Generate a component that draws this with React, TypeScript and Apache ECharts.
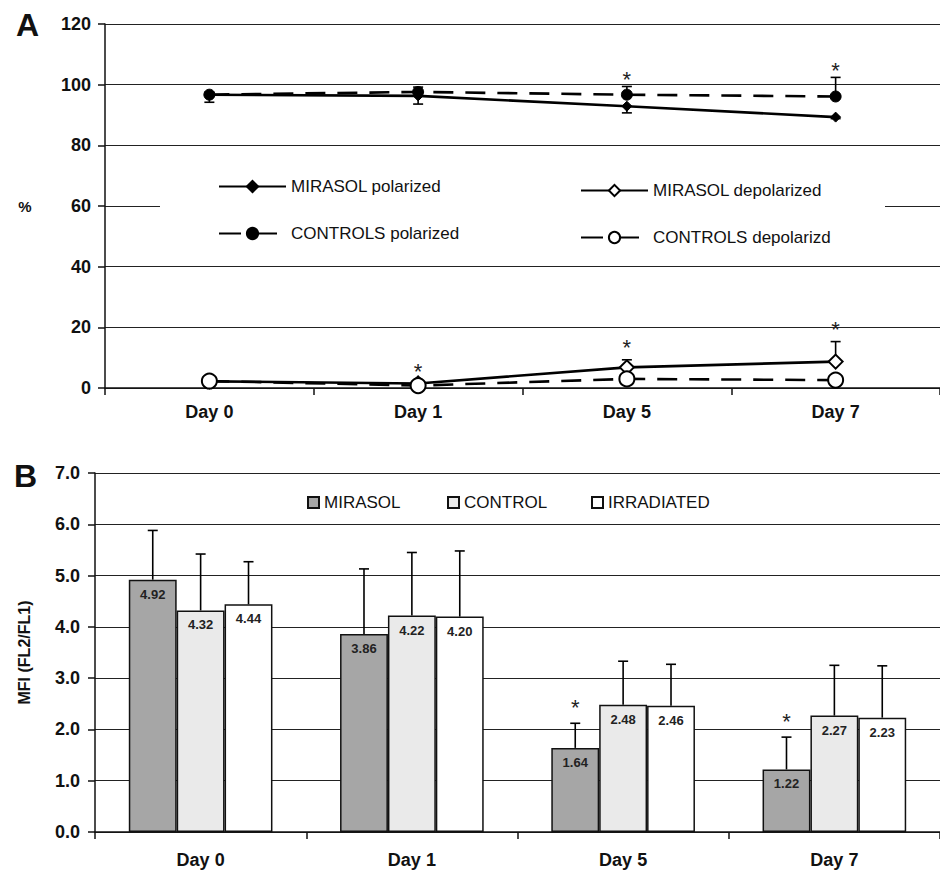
import React, { useEffect, useRef } from "react";
import * as echarts from "echarts";

// ---------- Data ----------
const days = ["Day 0", "Day 1", "Day 5", "Day 7"];

// Panel A (% of cells)
const mirasolPolarized = [96.7, 96.3, 92.9, 89.3];
const mirasolPolarizedErrUp = [0, 0, 0, 0];
const mirasolPolarizedErrDown = [2.5, 2.7, 2.2, 0.5];

const controlsPolarized = [96.7, 97.6, 96.7, 96.1];
const controlsPolarizedErrUp = [0.8, 1.6, 2.7, 6.3];
const controlsPolarizedErrDown = [0, 0, 0, 0];

const mirasolDepolarized = [2.2, 1.5, 6.8, 8.7];
const mirasolDepolarizedErrUp = [0.5, 0, 2.5, 6.6];
const mirasolDepolarizedErrDown = [0, 0, 0, 0];

const controlsDepolarized = [2.3, 0.8, 3.0, 2.6];
const controlsDepolarizedErrUp = [0, 0, 0, 0];
const controlsDepolarizedErrDown = [0.5, 0.5, 1.5, 0.8];

// significance marks in panel A
const sigUpperA = [false, false, true, true]; // over CONTROLS polarized
const sigLowerA = [false, true, true, true]; // over MIRASOL depolarized

// Panel B (MFI)
const mfiMirasol = [4.92, 3.86, 1.64, 1.22];
const mfiMirasolErr = [0.96, 1.27, 0.48, 0.63];
const mfiControl = [4.32, 4.22, 2.48, 2.27];
const mfiControlErr = [1.1, 1.23, 0.85, 0.98];
const mfiIrradiated = [4.44, 4.2, 2.46, 2.23];
const mfiIrradiatedErr = [0.83, 1.28, 0.81, 1.01];
const sigB = [false, false, true, true]; // over MIRASOL

const FONT = "'Liberation Sans', Arial, sans-serif";
const BAR_CAT_GAP = 0.32;

function errData(vals: number[], up: number[], down: number[]) {
  return vals.map((v, i) => [i, v, up[i], down[i]]);
}

function errRender(params: any, api: any) {
  const i = api.value(0);
  const v = api.value(1);
  const up = api.value(2);
  const dn = api.value(3);
  const c = api.coord([i, v]);
  const style = { stroke: "#000", lineWidth: 1.6 };
  const children: any[] = [];
  if (up > 0) {
    const t = api.coord([i, v + up]);
    children.push({ type: "line", shape: { x1: c[0], y1: c[1], x2: c[0], y2: t[1] }, style });
    children.push({ type: "line", shape: { x1: c[0] - 5, y1: t[1], x2: c[0] + 5, y2: t[1] }, style });
  }
  if (dn > 0) {
    const b = api.coord([i, v - dn]);
    children.push({ type: "line", shape: { x1: c[0], y1: c[1], x2: c[0], y2: b[1] }, style });
    children.push({ type: "line", shape: { x1: c[0] - 5, y1: b[1], x2: c[0] + 5, y2: b[1] }, style });
  }
  return { type: "group", children };
}

function starRender(offsetIndex: number | null, lift: number) {
  return (params: any, api: any) => {
    const i = api.value(0);
    const top = api.coord([i, api.value(1)]);
    let x = top[0];
    if (offsetIndex !== null) {
      const bandW = api.size([1, 0])[0];
      const barW = (bandW * (1 - BAR_CAT_GAP)) / 3;
      x += (offsetIndex - 1) * barW;
    }
    return {
      type: "text",
      x,
      y: top[1] - lift,
      style: {
        text: "*",
        font: `22px ${FONT}`,
        fill: "#222",
        align: "center",
        verticalAlign: "middle",
      },
    };
  };
}

function barErrRender(offsetIndex: number) {
  return (params: any, api: any) => {
    const i = api.value(0);
    const v = api.value(1);
    const e = api.value(2);
    const c = api.coord([i, v]);
    const t = api.coord([i, v + e]);
    const bandW = api.size([1, 0])[0];
    const barW = (bandW * (1 - BAR_CAT_GAP)) / 3;
    const x = c[0] + (offsetIndex - 1) * barW;
    const style = { stroke: "#000", lineWidth: 1.6 };
    return {
      type: "group",
      children: [
        { type: "line", shape: { x1: x, y1: c[1], x2: x, y2: t[1] }, style },
        { type: "line", shape: { x1: x - 5, y1: t[1], x2: x + 5, y2: t[1] }, style },
      ],
    };
  };
}

export default function App() {
  const ref = useRef<HTMLDivElement>(null);

  useEffect(() => {
    document.body.style.margin = "0";
    if (!ref.current) return;
    const chart = echarts.init(ref.current, null, { renderer: "svg" });

    const starsUpperA = days
      .map((_, i) => (sigUpperA[i] ? [i, controlsPolarized[i] + controlsPolarizedErrUp[i]] : null))
      .filter((d) => d !== null);
    const starsLowerA = days
      .map((_, i) => (sigLowerA[i] ? [i, mirasolDepolarized[i] + mirasolDepolarizedErrUp[i]] : null))
      .filter((d) => d !== null);
    const starsB = days
      .map((_, i) => (sigB[i] ? [i, mfiMirasol[i] + mfiMirasolErr[i]] : null))
      .filter((d) => d !== null);

    const axisLabelStyle = { color: "#111", fontFamily: FONT, fontWeight: "bold" as const, fontSize: 18 };
    const axisLine = { show: true, lineStyle: { color: "#111", width: 1.5 } };
    const split = { show: true, lineStyle: { color: "#222", width: 1 } };

    const lineA = (name: string, data: number[], dashed: boolean, symbol: string, size: number, filled: boolean) => ({
      name,
      type: "line",
      xAxisIndex: 0,
      yAxisIndex: 0,
      data,
      symbol,
      symbolSize: size,
      z: 3,
      lineStyle: { color: "#000", width: 2.6, type: dashed ? [20, 12] : "solid" },
      itemStyle: filled
        ? { color: "#000", borderColor: "#000", borderWidth: 1 }
        : { color: "#000", borderColor: "#000", borderWidth: 1.5 },
    });

    const legendText = { fontSize: 17, color: "#111", fontFamily: FONT };
    const legendDash = { type: [22, 7, 29, 100] };

    const option: any = {
      animation: false,
      backgroundColor: "#fff",
      textStyle: { fontFamily: FONT },
      title: [
        { text: "A", left: 11, top: 4, textStyle: { fontSize: 32, fontWeight: "bold", color: "#111", fontFamily: FONT } },
        { text: "B", left: 9, top: 455, textStyle: { fontSize: 32, fontWeight: "bold", color: "#111", fontFamily: FONT } },
      ],
      grid: [
        { left: 105, top: 24, width: 840, height: 364 },
        { left: 95, top: 473, width: 856, height: 359 },
      ],
      xAxis: [
        {
          type: "category",
          gridIndex: 0,
          data: days,
          boundaryGap: true,
          axisLine,
          axisTick: { show: true, length: 7, interval: 0, lineStyle: { color: "#111", width: 1.5 } },
          axisLabel: { ...axisLabelStyle, margin: 15 },
        },
        {
          type: "category",
          gridIndex: 1,
          data: days,
          boundaryGap: true,
          axisLine,
          axisTick: { show: true, length: 7, interval: 0, lineStyle: { color: "#111", width: 1.5 } },
          axisLabel: { ...axisLabelStyle, margin: 19 },
        },
      ],
      yAxis: [
        {
          type: "value",
          gridIndex: 0,
          min: 0,
          max: 120,
          interval: 20,
          name: "%",
          nameLocation: "middle",
          nameRotate: 0,
          nameGap: 80,
          nameTextStyle: { fontSize: 15, fontWeight: "bold", color: "#111", align: "center", fontFamily: FONT },
          axisLine,
          axisTick: { show: true, length: 7, lineStyle: { color: "#111", width: 1.5 } },
          axisLabel: { ...axisLabelStyle, margin: 14 },
          splitLine: split,
        },
        {
          type: "value",
          gridIndex: 1,
          min: 0,
          max: 7,
          interval: 1,
          name: "MFI (FL2/FL1)",
          nameLocation: "middle",
          nameRotate: 90,
          nameGap: 63,
          nameTextStyle: { fontSize: 16, fontWeight: "bold", color: "#111", fontFamily: FONT },
          axisLine,
          axisTick: { show: true, length: 7, lineStyle: { color: "#111", width: 1.5 } },
          axisLabel: { ...axisLabelStyle, margin: 15, formatter: (v: number) => v.toFixed(1) },
          splitLine: split,
        },
      ],
      legend: [
        {
          data: [
            { name: "MIRASOL polarized" },
            { name: "CONTROLS polarized", lineStyle: legendDash },
          ],
          left: 218,
          top: 178,
          orient: "vertical",
          itemWidth: 67,
          itemHeight: 14,
          itemGap: 30,
          padding: 0,
          selectedMode: false,
          z: 20,
          textStyle: legendText,
        },
        {
          data: [
            { name: "MIRASOL depolarized" },
            { name: "CONTROLS depolarizd", lineStyle: legendDash },
          ],
          left: 580,
          top: 182,
          orient: "vertical",
          itemWidth: 67,
          itemHeight: 14,
          itemGap: 30,
          padding: 0,
          selectedMode: false,
          z: 20,
          textStyle: legendText,
        },
        {
          data: ["MIRASOL"],
          left: 307,
          top: 494,
          icon: "rect",
          itemWidth: 11,
          itemHeight: 11,
          padding: 0,
          selectedMode: false,
          textStyle: legendText,
        },
        {
          data: ["CONTROL"],
          left: 447,
          top: 494,
          icon: "rect",
          itemWidth: 11,
          itemHeight: 11,
          padding: 0,
          selectedMode: false,
          textStyle: legendText,
        },
        {
          data: ["IRRADIATED"],
          left: 591,
          top: 494,
          icon: "rect",
          itemWidth: 11,
          itemHeight: 11,
          padding: 0,
          selectedMode: false,
          textStyle: legendText,
        },
      ],
      graphic: [
        {
          type: "rect",
          shape: { x: 160, y: 160, width: 725, height: 92 },
          style: { fill: "#fff" },
          z: 10,
          silent: true,
        },
      ],
      series: [
        lineA("MIRASOL polarized", mirasolPolarized, false, "diamond", 10, true),
        lineA("CONTROLS polarized", controlsPolarized, true, "circle", 11, true),
        lineA("MIRASOL depolarized", mirasolDepolarized, false, "emptyDiamond", 14, false),
        lineA("CONTROLS depolarizd", controlsDepolarized, true, "emptyCircle", 15, false),
        {
          type: "custom",
          xAxisIndex: 0,
          yAxisIndex: 0,
          z: 2,
          renderItem: errRender,
          data: [
            ...errData(mirasolPolarized, mirasolPolarizedErrUp, mirasolPolarizedErrDown),
            ...errData(controlsPolarized, controlsPolarizedErrUp, controlsPolarizedErrDown),
            ...errData(mirasolDepolarized, mirasolDepolarizedErrUp, mirasolDepolarizedErrDown),
            ...errData(controlsDepolarized, controlsDepolarizedErrUp, controlsDepolarizedErrDown),
          ],
        },
        {
          type: "custom",
          xAxisIndex: 0,
          yAxisIndex: 0,
          z: 4,
          renderItem: starRender(null, 7),
          data: starsUpperA,
        },
        {
          type: "custom",
          xAxisIndex: 0,
          yAxisIndex: 0,
          z: 4,
          renderItem: starRender(null, 12),
          data: starsLowerA,
        },
        {
          name: "MIRASOL",
          type: "bar",
          xAxisIndex: 1,
          yAxisIndex: 1,
          data: mfiMirasol,
          barGap: "0%",
          barCategoryGap: `${BAR_CAT_GAP * 100}%`,
          itemStyle: { color: "#a6a6a6", borderColor: "#111", borderWidth: 1.5 },
          label: {
            show: true,
            position: "insideTop",
            distance: 8,
            fontSize: 13,
            fontWeight: "bold",
            color: "#222",
            fontFamily: FONT,
            formatter: (p: any) => Number(p.value).toFixed(2),
          },
        },
        {
          name: "CONTROL",
          type: "bar",
          xAxisIndex: 1,
          yAxisIndex: 1,
          data: mfiControl,
          barGap: "0%",
          barCategoryGap: `${BAR_CAT_GAP * 100}%`,
          itemStyle: { color: "#eaeaea", borderColor: "#111", borderWidth: 1.5 },
          label: {
            show: true,
            position: "insideTop",
            distance: 8,
            fontSize: 13,
            fontWeight: "bold",
            color: "#222",
            fontFamily: FONT,
            formatter: (p: any) => Number(p.value).toFixed(2),
          },
        },
        {
          name: "IRRADIATED",
          type: "bar",
          xAxisIndex: 1,
          yAxisIndex: 1,
          data: mfiIrradiated,
          barGap: "0%",
          barCategoryGap: `${BAR_CAT_GAP * 100}%`,
          itemStyle: { color: "#ffffff", borderColor: "#111", borderWidth: 1.5 },
          label: {
            show: true,
            position: "insideTop",
            distance: 8,
            fontSize: 13,
            fontWeight: "bold",
            color: "#222",
            fontFamily: FONT,
            formatter: (p: any) => Number(p.value).toFixed(2),
          },
        },
        {
          type: "custom",
          xAxisIndex: 1,
          yAxisIndex: 1,
          z: 3,
          renderItem: barErrRender(0),
          data: mfiMirasol.map((v, i) => [i, v, mfiMirasolErr[i]]),
        },
        {
          type: "custom",
          xAxisIndex: 1,
          yAxisIndex: 1,
          z: 3,
          renderItem: barErrRender(1),
          data: mfiControl.map((v, i) => [i, v, mfiControlErr[i]]),
        },
        {
          type: "custom",
          xAxisIndex: 1,
          yAxisIndex: 1,
          z: 3,
          renderItem: barErrRender(2),
          data: mfiIrradiated.map((v, i) => [i, v, mfiIrradiatedErr[i]]),
        },
        {
          type: "custom",
          xAxisIndex: 1,
          yAxisIndex: 1,
          z: 4,
          renderItem: starRender(0, 16),
          data: starsB,
        },
      ],
    };

    chart.setOption(option);
    return () => chart.dispose();
  }, []);

  return <div ref={ref} style={{ width: 940, height: 880 }} />;
}
